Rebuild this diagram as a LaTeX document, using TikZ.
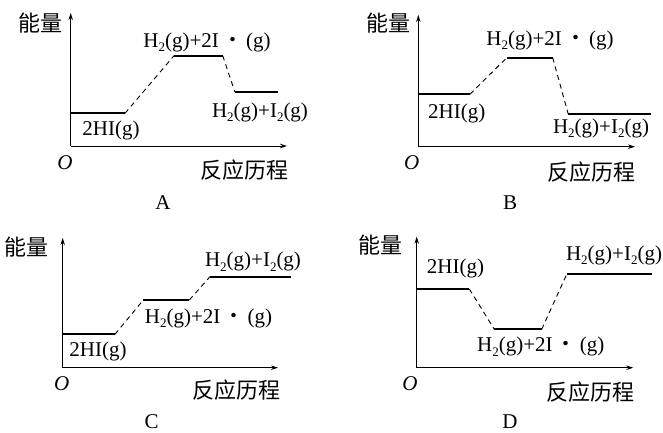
\documentclass[tikz,border=0pt]{standalone}
\usepackage{fontspec}
\setmainfont{Liberation Serif}
\newfontfamily\cjk{Noto Sans CJK SC}
\usetikzlibrary{arrows.meta}
\newcommand{\dn}[1]{\raisebox{-0.45ex}{\fontsize{13}{13}\selectfont #1}}
\newcommand{\hmid}{H\dn{2}(g)+2I\hspace{0.15em}{\cjk ・}\hspace{0.15em}(g)}
\newcommand{\hend}{H\dn{2}(g)+I\dn{2}(g)}
\tikzset{
  axis/.style={-{Stealth[length=7pt,width=4.5pt]}, line width=0.9pt},
  level/.style={line width=1.8pt},
  link/.style={line width=0.9pt, dash pattern=on 5pt off 4pt},
  lbl/.style={inner sep=0pt, font=\fontsize{21}{24}\selectfont},
  zh/.style={inner sep=0pt, font=\cjk\fontsize{22}{24}\selectfont},
}
\begin{document}
\begin{tikzpicture}[x=1pt,y=-1pt]
\useasboundingbox (0,0) rectangle (663,433);
% A
\coordinate (aO) at (70.7,146);
\coordinate (aY) at (70.7,13);
\coordinate (aX) at (287,146);
\coordinate (a1) at (70.7,113.3);
\coordinate (a2) at (125,113.3);
\coordinate (a3) at (174,55.7);
\coordinate (a4) at (222.7,55.7);
\coordinate (a5) at (235,92.3);
\coordinate (a6) at (278.3,92.3);
\draw[axis] (aO)--(aY);
\draw[axis] (aO)--(aX);
\draw[level] (a1)--(a2);
\draw[link] (a2)--(a3);
\draw[level] (a3)--(a4);
\draw[link] (a4)--(a5);
\draw[level] (a5)--(a6);
\node[zh] (aE) at (40,23) {能量};
\node[lbl] (amid) at (207,42) {\hmid};
\node[lbl] (aend) at (260,112) {\hend};
\node[lbl] (ahi) at (111,130) {2HI(g)};
\node[lbl] (aorig) at (65,163) {\textit{O}};
\node[zh] (aR) at (244,170) {反应历程};
\node[lbl] (aname) at (163,203) {A};
% B
\coordinate (bO) at (418.3,146.7);
\coordinate (bY) at (418.3,15);
\coordinate (bX) at (635,146.7);
\coordinate (b1) at (418.3,94.3);
\coordinate (b2) at (470,94.3);
\coordinate (b3) at (506.7,57.7);
\coordinate (b4) at (552.7,57.7);
\coordinate (b5) at (568.3,114.3);
\coordinate (b6) at (650.7,114.3);
\draw[axis] (bO)--(bY);
\draw[axis] (bO)--(bX);
\draw[level] (b1)--(b2);
\draw[link] (b2)--(b3);
\draw[level] (b3)--(b4);
\draw[link] (b4)--(b5);
\draw[level] (b5)--(b6);
\node[zh] (bE) at (388,23.3) {能量};
\node[lbl] (bmid) at (550,40) {\hmid};
\node[lbl] (bend) at (601,128) {\hend};
\node[lbl] (bhi) at (456.7,113) {2HI(g)};
\node[lbl] (borig) at (411.7,163) {\textit{O}};
\node[zh] (bR) at (591.5,172) {反应历程};
\node[lbl] (bname) at (510,203) {B};
% C
\coordinate (cO) at (62.7,367.7);
\coordinate (cY) at (62.7,238);
\coordinate (cX) at (278,367.7);
\coordinate (c1) at (62.7,334.3);
\coordinate (c2) at (115,334.3);
\coordinate (c3) at (143.3,300);
\coordinate (c4) at (189.3,300);
\coordinate (c5) at (210,276.7);
\coordinate (c6) at (290.7,276.7);
\draw[axis] (cO)--(cY);
\draw[axis] (cO)--(cX);
\draw[level] (c1)--(c2);
\draw[link] (c2)--(c3);
\draw[level] (c3)--(c4);
\draw[link] (c4)--(c5);
\draw[level] (c5)--(c6);
\node[zh] (cE) at (26.7,246.7) {能量};
\node[lbl] (cend) at (253,261.7) {\hend};
\node[lbl] (cmid) at (208.5,318) {\hmid};
\node[lbl] (chi) at (98,351.7) {2HI(g)};
\node[lbl] (corig) at (61.7,383.3) {\textit{O}};
\node[zh] (cR) at (236.5,390) {反应历程};
\node[lbl] (cname) at (151.7,421.7) {C};
% D
\coordinate (dO) at (416.7,367.7);
\coordinate (dY) at (416.7,236.7);
\coordinate (dX) at (633.3,367.7);
\coordinate (d1) at (416.7,289);
\coordinate (d2) at (469.3,289);
\coordinate (d3) at (494.3,329.3);
\coordinate (d4) at (541.7,329.3);
\coordinate (d5) at (566.7,274.3);
\coordinate (d6) at (651.7,274.3);
\draw[axis] (dO)--(dY);
\draw[axis] (dO)--(dX);
\draw[level] (d1)--(d2);
\draw[link] (d2)--(d3);
\draw[level] (d3)--(d4);
\draw[link] (d4)--(d5);
\draw[level] (d5)--(d6);
\node[zh] (dE) at (380,245) {能量};
\node[lbl] (dhi) at (455.5,268.3) {2HI(g)};
\node[lbl] (dend) at (614,255) {\hend};
\node[lbl] (dmid) at (540.8,346.7) {\hmid};
\node[lbl] (dorig) at (410,383.3) {\textit{O}};
\node[zh] (dR) at (590.8,391.7) {反应历程};
\node[lbl] (dname) at (510,421.7) {D};
\end{tikzpicture}
\end{document}
